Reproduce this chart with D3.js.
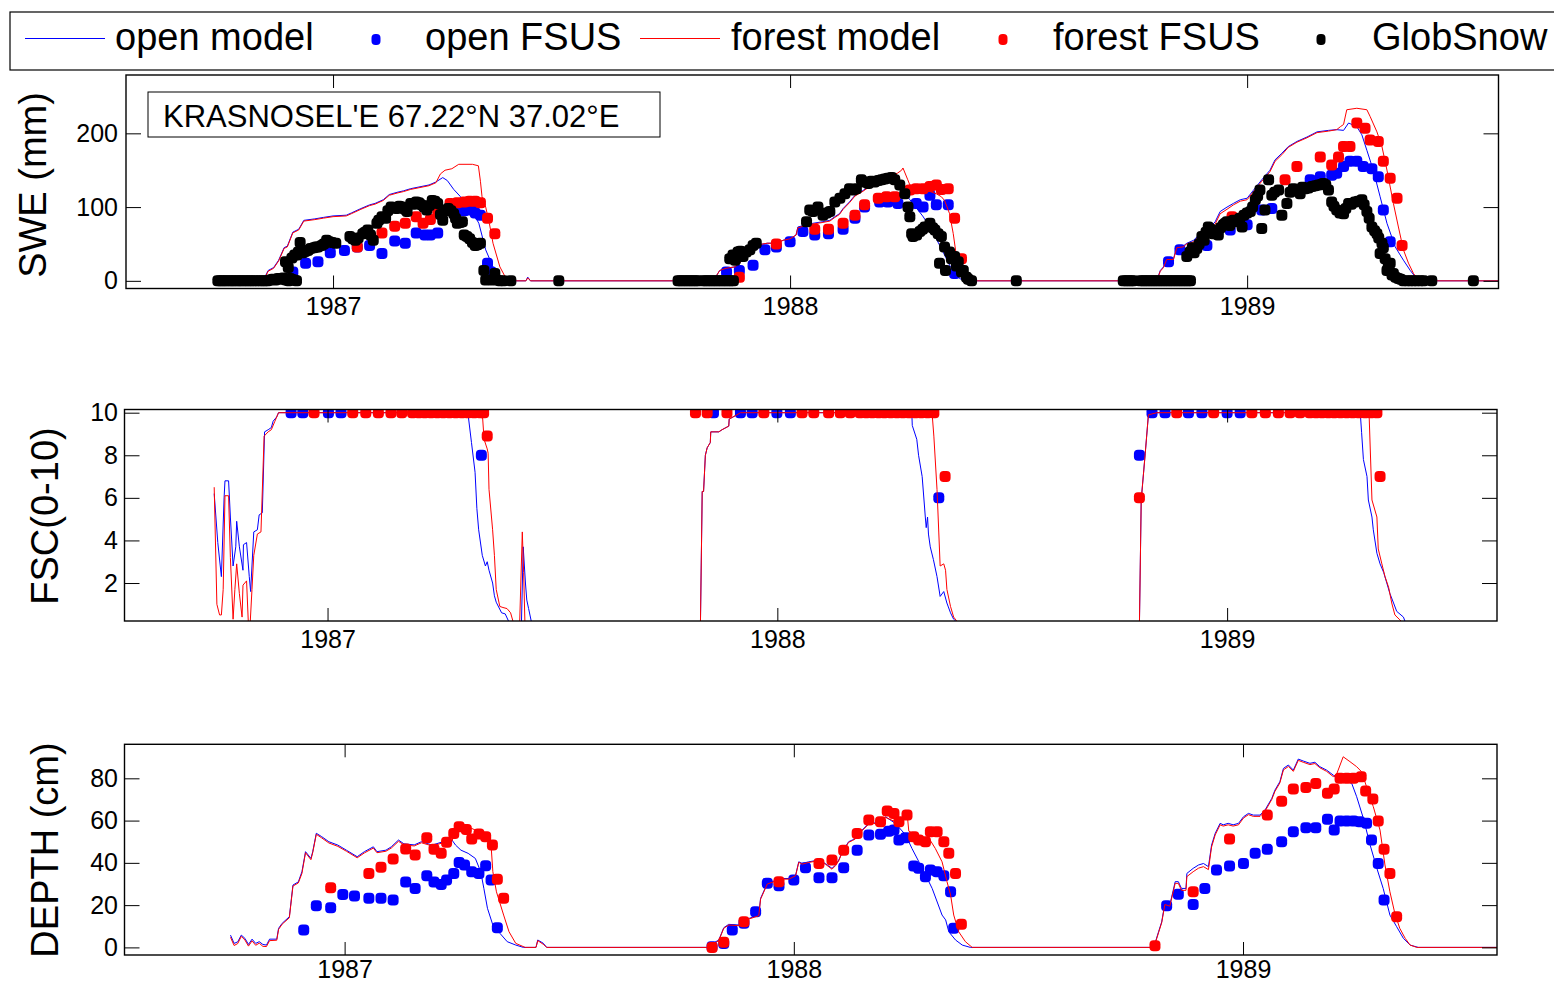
<!DOCTYPE html>
<html>
<head>
<meta charset="utf-8">
<script src="https://cdn.jsdelivr.net/npm/d3@7"></script>
<style>
  body { margin: 0; background: #fff; }
  svg { display: block; font-family: "Liberation Sans", Arial, Helvetica, sans-serif; }
</style>
</head>
<body>
<svg id="chart" width="1554" height="985"></svg>
<script>
// ---------- labels & ticks ----------
const seriesNames = ["open model", "open FSUS", "forest model", "forest FSUS", "GlobSnow"];
const stationLabel = "KRASNOSEL'E 67.22°N 37.02°E";
const yearTicks = [1987, 1988, 1989];
const sweTicks = [0, 100, 200];
const fscTicks = [2, 4, 6, 8, 10];
const depthTicks = [0, 20, 40, 60, 80];

// ---------- SWE (mm), [decimal year, value] ----------
const sweOpenModel = [
 [1986.748,3],[1986.754,5],[1986.760,4],[1986.800,4],[1986.850,4],[1986.858,14],[1986.870,18],[1986.881,28],[1986.893,45],[1986.900,47],[1986.912,66],[1986.925,70],[1986.936,82],[1986.960,84],[1986.979,86],[1987.000,88],[1987.029,89],[1987.040,92],[1987.061,98],[1987.080,103],[1987.092,105],[1987.110,110],[1987.123,117],[1987.140,120],[1987.154,122],[1987.170,125],[1987.186,127],[1987.210,130],[1987.225,134],[1987.240,140],[1987.250,136],[1987.264,124],[1987.279,114],[1987.303,96],[1987.319,78],[1987.334,42],[1987.350,19],[1987.365,5],[1987.381,0],[1987.422,0],[1987.426,5],[1987.432,0],
 [1987.835,0],[1987.838,6],[1987.846,14],[1987.860,17],[1987.880,19],[1987.893,26],[1987.905,33],[1987.920,39],[1987.923,48],[1987.950,51],[1987.970,51],[1987.985,55],[1988.000,57],[1988.013,62],[1988.017,73],[1988.036,76],[1988.050,78],[1988.070,80],[1988.087,82],[1988.098,87],[1988.108,91],[1988.116,98],[1988.130,107],[1988.142,116],[1988.156,121],[1988.182,132],[1988.203,141],[1988.220,143],[1988.228,140],[1988.240,128],[1988.262,110],[1988.290,88],[1988.306,73],[1988.330,45],[1988.350,20],[1988.371,3],[1988.385,0],
 [1988.802,0],[1988.810,14],[1988.817,19],[1988.824,30],[1988.839,30],[1988.846,46],[1988.860,47],[1988.868,51],[1988.883,55],[1988.897,64],[1988.919,73],[1988.930,80],[1988.941,94],[1988.956,100],[1988.970,105],[1988.985,110],[1989.000,112],[1989.014,123],[1989.032,137],[1989.050,150],[1989.061,164],[1989.076,173],[1989.090,182],[1989.109,189],[1989.131,195],[1989.153,202],[1989.178,204],[1989.196,205],[1989.211,204],[1989.222,214],[1989.240,209],[1989.251,198],[1989.262,177],[1989.276,150],[1989.291,114],[1989.306,78],[1989.324,46],[1989.342,28],[1989.357,14],[1989.371,3],[1989.376,0],[1989.550,0]
];
const sweForestModel = [
 [1986.748,2],[1986.754,4],[1986.760,3],[1986.800,3],[1986.850,3],[1986.858,13],[1986.870,17],[1986.881,27],[1986.893,44],[1986.900,46],[1986.912,65],[1986.925,69],[1986.936,81],[1986.960,83],[1986.979,85],[1987.000,87],[1987.029,88],[1987.040,91],[1987.061,97],[1987.080,102],[1987.092,104],[1987.110,109],[1987.123,116],[1987.140,119],[1987.154,121],[1987.170,124],[1987.186,126],[1987.210,129],[1987.225,133],[1987.235,145],[1987.245,150],[1987.260,152],[1987.275,158],[1987.305,158],[1987.318,156],[1987.3225,135],[1987.326,114],[1987.334,100],[1987.342,78],[1987.350,51],[1987.365,19],[1987.377,5],[1987.390,1],[1987.400,0],[1987.422,0],[1987.426,4],[1987.432,0],
 [1987.835,0],[1987.838,6],[1987.846,14],[1987.860,17],[1987.880,19],[1987.893,26],[1987.905,33],[1987.920,39],[1987.923,48],[1987.950,51],[1987.970,51],[1987.985,55],[1988.000,57],[1988.013,62],[1988.017,72],[1988.036,75],[1988.050,77],[1988.070,79],[1988.087,81],[1988.098,86],[1988.108,90],[1988.116,97],[1988.130,106],[1988.142,115],[1988.156,120],[1988.182,131],[1988.203,140],[1988.220,143],[1988.235,146],[1988.244,150],[1988.247,153],[1988.2575,137],[1988.262,130],[1988.276,128],[1988.298,123],[1988.320,118],[1988.331,114],[1988.338,109],[1988.349,91],[1988.357,64],[1988.364,33],[1988.379,14],[1988.397,0],
 [1988.802,0],[1988.810,13],[1988.817,18],[1988.824,29],[1988.839,29],[1988.846,45],[1988.860,46],[1988.868,50],[1988.883,53],[1988.897,62],[1988.919,70],[1988.930,77],[1988.941,91],[1988.956,97],[1988.970,103],[1988.985,108],[1989.000,110],[1989.014,121],[1989.032,135],[1989.050,148],[1989.061,162],[1989.076,171],[1989.090,181],[1989.109,188],[1989.131,194],[1989.153,201],[1989.178,203],[1989.196,205],[1989.204,209],[1989.211,212],[1989.218,232],[1989.240,234],[1989.262,232],[1989.269,223],[1989.284,202],[1989.295,182],[1989.306,150],[1989.320,105],[1989.331,73],[1989.342,42],[1989.353,24],[1989.364,10],[1989.375,1],[1989.385,0],[1989.550,0]
];
const sweOpenFsus = [
 [1986.912,12],[1986.940,24],[1986.967,26],[1986.994,38],[1987.025,41],[1987.053,46],[1987.080,48],[1987.107,37],[1987.135,54],[1987.158,51],[1987.182,65],[1987.201,62],[1987.213,62],[1987.229,65],[1987.272,94],[1987.287,95],[1987.303,96],[1987.311,92],[1987.3225,89],[1987.338,24],[1987.346,12],
 [1987.861,12],[1987.889,14],[1987.919,21],[1987.945,42],[1987.970,46],[1988.000,53],[1988.028,67],[1988.054,62],[1988.084,64],[1988.116,70],[1988.142,85],[1988.163,100],[1988.196,107],[1988.214,107],[1988.236,105],[1988.276,105],[1988.291,100],[1988.306,116],[1988.320,103],[1988.346,103],[1988.360,10],
 [1988.828,26],[1988.853,42],[1988.912,48],[1988.963,69],[1989.000,76],[1989.032,96],[1989.054,98],[1989.138,137],[1989.160,141],[1989.185,143],[1989.196,146],[1989.211,155],[1989.225,162],[1989.240,162],[1989.254,155],[1989.273,152],[1989.287,141],[1989.298,96],[1989.313,53]
];
const sweForestFsus = [
 [1987.053,46],[1987.107,65],[1987.135,74],[1987.158,78],[1987.182,87],[1987.197,78],[1987.213,83],[1987.229,94],[1987.256,105],[1987.272,106],[1987.287,107],[1987.299,108],[1987.311,108],[1987.3225,106],[1987.338,85],[1987.354,64],
 [1987.889,5],[1987.970,50],[1988.054,70],[1988.084,70],[1988.116,78],[1988.142,89],[1988.163,103],[1988.193,112],[1988.211,114],[1988.229,114],[1988.262,123],[1988.276,125],[1988.291,125],[1988.306,128],[1988.320,130],[1988.331,124],[1988.346,125],[1988.360,85],[1988.375,30],
 [1988.967,87],[1989.083,137],[1989.109,155],[1989.160,168],[1989.185,157],[1989.200,168],[1989.211,182],[1989.225,182],[1989.240,214],[1989.258,207],[1989.269,191],[1989.287,189],[1989.298,162],[1989.313,139],[1989.328,112],[1989.339,48]
];
const sweGlobSnow = [
 [1986.748,0],[1986.753,0],[1986.758,0],[1986.763,0],[1986.768,0],[1986.774,0],[1986.779,0],[1986.784,0],[1986.790,0],[1986.795,0],[1986.800,0],[1986.806,0],[1986.811,0],[1986.817,0],[1986.822,0],[1986.828,0],[1986.834,0],[1986.840,0],[1986.846,0],[1986.851,0],[1986.857,0],[1986.862,1],[1986.868,2],[1986.874,1],[1986.880,3],[1986.886,2],[1986.891,4],[1986.897,1],[1986.903,0],[1986.909,2],[1986.915,1],[1986.920,0],[1986.896,26],[1986.902,18],[1986.906,3],[1986.910,31],[1986.916,35],[1986.921,35],[1986.924,39],[1986.928,52],[1986.934,38],[1986.940,40],[1986.945,41],[1986.951,44],[1986.958,45],[1986.963,46],[1986.967,46],[1986.975,48],[1986.980,50],[1986.986,55],[1986.992,53],[1986.998,52],[1987.006,51],[1987.037,60],[1987.043,57],[1987.049,55],[1987.055,58],[1987.065,64],[1987.070,66],[1987.076,69],[1987.082,62],[1987.088,55],[1987.096,78],[1987.100,82],[1987.107,87],[1987.115,85],[1987.120,95],[1987.127,100],[1987.133,99],[1987.139,98],[1987.145,101],[1987.151,100],[1987.157,97],[1987.162,94],[1987.170,105],[1987.176,104],[1987.182,107],[1987.188,106],[1987.193,103],[1987.199,100],[1987.205,96],[1987.211,102],[1987.217,109],[1987.223,108],[1987.229,105],[1987.235,90],[1987.240,82],[1987.246,95],[1987.252,98],[1987.258,95],[1987.264,91],[1987.268,85],[1987.272,78],[1987.278,79],[1987.283,80],[1987.287,62],[1987.293,60],[1987.299,57],[1987.305,52],[1987.311,48],[1987.316,49],[1987.3225,51],[1987.330,14],[1987.334,1],[1987.346,1],[1987.354,10],[1987.358,1],[1987.365,0],[1987.373,0],[1987.389,0],[1987.494,0],
 [1987.755,0],[1987.760,0],[1987.766,0],[1987.771,0],[1987.777,0],[1987.782,0],[1987.788,0],[1987.793,0],[1987.799,0],[1987.810,0],[1987.815,0],[1987.821,0],[1987.826,0],[1987.832,0],[1987.837,0],[1987.843,0],[1987.848,0],[1987.854,0],[1987.859,0],[1987.865,0],[1987.870,0],[1987.876,0],[1987.868,30],[1987.875,35],[1987.880,28],[1987.886,39],[1987.891,40],[1987.897,33],[1987.904,39],[1987.912,42],[1987.919,48],[1987.926,51],
 [1988.036,80],[1988.043,96],[1988.050,94],[1988.061,100],[1988.072,89],[1988.080,92],[1988.087,94],[1988.098,107],[1988.109,112],[1988.120,118],[1988.130,125],[1988.138,123],[1988.145,125],[1988.156,137],[1988.163,134],[1988.171,132],[1988.178,135],[1988.185,134],[1988.193,136],[1988.200,137],[1988.207,138],[1988.214,139],[1988.222,140],[1988.229,137],[1988.240,130],[1988.251,118],[1988.258,100],[1988.262,87],[1988.266,64],[1988.269,60],[1988.277,62],[1988.284,67],[1988.290,70],[1988.295,73],[1988.306,78],[1988.312,72],[1988.317,69],[1988.324,64],[1988.327,24],[1988.331,60],[1988.338,46],[1988.340,14],[1988.349,39],[1988.353,30],[1988.360,33],[1988.364,20],[1988.368,26],[1988.375,12],[1988.379,14],[1988.386,5],[1988.390,2],[1988.397,0],[1988.495,0],
 [1988.729,0],[1988.735,0],[1988.740,0],[1988.746,0],[1988.751,0],[1988.766,0],[1988.772,0],[1988.777,0],[1988.783,0],[1988.788,0],[1988.794,0],[1988.799,0],[1988.805,0],[1988.810,0],[1988.816,0],[1988.821,0],[1988.827,0],[1988.832,0],[1988.838,0],[1988.843,0],[1988.849,0],[1988.854,0],[1988.860,0],[1988.865,0],[1988.871,0],[1988.876,0],
 [1988.868,33],[1988.875,39],[1988.880,45],[1988.884,38],[1988.890,44],[1988.895,50],[1988.901,60],[1988.906,55],[1988.910,66],[1988.915,73],[1988.920,70],[1988.926,64],[1988.931,68],[1988.937,62],[1988.942,72],[1988.948,76],[1988.952,78],[1988.956,80],[1988.962,75],[1988.970,82],[1988.978,80],[1988.984,85],[1988.989,73],[1988.993,89],[1989.000,92],[1989.007,94],[1989.012,100],[1989.018,110],[1989.023,115],[1989.028,123],[1989.032,71],[1989.039,96],[1989.047,137],[1989.054,116],[1989.060,120],[1989.069,123],[1989.076,89],[1989.087,105],[1989.094,120],[1989.101,125],[1989.108,122],[1989.116,118],[1989.121,127],[1989.127,125],[1989.134,126],[1989.142,128],[1989.149,129],[1989.156,130],[1989.163,131],[1989.167,132],[1989.172,130],[1989.178,123],[1989.185,107],[1989.190,101],[1989.196,96],[1989.203,92],[1989.211,91],[1989.216,98],[1989.222,105],[1989.228,104],[1989.236,107],[1989.243,108],[1989.251,110],[1989.256,103],[1989.262,94],[1989.267,85],[1989.273,73],[1989.279,68],[1989.284,64],[1989.288,58],[1989.291,37],[1989.295,51],[1989.298,45],[1989.302,30],[1989.306,14],[1989.309,20],[1989.313,24],[1989.317,8],[1989.320,10],[1989.325,5],[1989.331,3],[1989.336,2],[1989.342,0],[1989.350,0],[1989.357,0],[1989.364,0],[1989.371,0],[1989.379,0],[1989.386,0],[1989.404,0],[1989.495,0]
];

// ---------- FSC (0-10) ----------
const fscOpenModel = [
 [1986.748,6.2],[1986.756,3.9],[1986.764,2.3],[1986.770,6.0],[1986.772,6.8],[1986.780,6.8],[1986.784,5.1],[1986.790,2.8],[1986.796,3.7],[1986.798,4.9],[1986.804,3.7],[1986.812,2.6],[1986.813,3.8],[1986.820,3.9],[1986.826,2.3],[1986.829,1.6],[1986.836,4.4],[1986.844,4.5],[1986.848,5.2],[1986.855,5.3],[1986.860,9.1],[1986.868,9.2],[1986.875,9.3],[1986.879,9.6],[1986.887,9.8],[1986.891,10],[1987.312,10],[1987.320,8.6],[1987.328,7.2],[1987.332,5.5],[1987.336,4.5],[1987.344,3.3],[1987.351,2.8],[1987.355,3.0],[1987.359,2.6],[1987.367,2.0],[1987.371,1.4],[1987.375,1.1],[1987.387,0.6],[1987.395,0.55],[1987.407,0],[1987.431,0],[1987.435,3.7],[1987.440,2.0],[1987.443,1.2],[1987.447,0.8],[1987.455,0],
 [1987.829,0],[1987.833,6.3],[1987.836,6.3],[1987.840,8.0],[1987.844,8.35],[1987.851,8.6],[1987.852,9.1],[1987.870,9.1],[1987.877,9.2],[1987.892,9.37],[1987.893,9.7],[1987.910,9.9],[1987.918,10],[1988.299,10],[1988.300,9.4],[1988.310,8.75],[1988.314,8.0],[1988.322,7.0],[1988.329,5.1],[1988.331,4.6],[1988.334,5.1],[1988.336,4.3],[1988.340,3.7],[1988.347,3.1],[1988.355,2.3],[1988.362,1.37],[1988.370,1.6],[1988.377,1.06],[1988.385,0.6],[1988.392,0.3],[1988.407,0],
 [1988.805,0],[1988.809,5.9],[1988.818,8.1],[1988.825,9.9],[1988.844,10],[1989.296,10],[1989.299,9.06],[1989.303,7.8],[1989.311,7.0],[1989.314,5.9],[1989.322,5.1],[1989.325,4.5],[1989.333,3.4],[1989.340,2.9],[1989.348,2.5],[1989.355,2.0],[1989.362,1.5],[1989.370,1.06],[1989.377,0.67],[1989.392,0.4],[1989.399,0],[1989.600,0]
];
const fscForestModel = [
 [1986.748,6.5],[1986.754,1.0],[1986.760,0.5],[1986.764,0.5],[1986.768,1.7],[1986.772,6.1],[1986.780,6.1],[1986.784,3.2],[1986.790,0.3],[1986.794,1.7],[1986.798,2.9],[1986.804,1.5],[1986.810,0.4],[1986.812,1.9],[1986.820,2.1],[1986.824,0.1],[1986.828,0.1],[1986.832,1.7],[1986.836,3.3],[1986.844,4.3],[1986.852,4.4],[1986.859,8.9],[1986.868,9.1],[1986.875,9.2],[1986.883,9.6],[1986.891,10],[1987.344,10],[1987.348,8.75],[1987.355,8.3],[1987.357,8.1],[1987.359,6.4],[1987.367,4.5],[1987.371,3.3],[1987.375,1.7],[1987.383,0.9],[1987.390,0.85],[1987.399,0.8],[1987.407,0.6],[1987.415,0],[1987.427,0],[1987.433,4.4],[1987.436,2.5],[1987.439,0],
 [1987.829,0],[1987.833,6.3],[1987.836,6.3],[1987.840,8.0],[1987.844,8.35],[1987.851,8.6],[1987.852,9.1],[1987.870,9.1],[1987.877,9.2],[1987.892,9.37],[1987.893,9.7],[1987.910,9.9],[1987.918,10],[1988.344,10],[1988.348,8.9],[1988.355,6.4],[1988.359,4.35],[1988.362,2.8],[1988.370,2.9],[1988.374,2.6],[1988.377,1.7],[1988.385,0.9],[1988.392,0.4],[1988.407,0],
 [1988.805,0],[1988.809,5.9],[1988.818,8.1],[1988.825,9.9],[1988.844,10],[1989.314,10],[1989.316,9.7],[1989.322,5.9],[1989.333,5.1],[1989.336,3.6],[1989.344,2.9],[1989.351,2.3],[1989.359,1.8],[1989.366,1.06],[1989.373,0.5],[1989.384,0.27],[1989.396,0],[1989.600,0]
];
const fscOpenFsus = [
 [1986.919,10],[1986.945,10],[1987.002,10],[1987.030,10],[1987.342,8],
 [1987.858,10],[1987.918,10],[1987.944,10],[1987.999,10],[1988.029,10],[1988.359,6],
 [1988.805,8],[1988.833,10],[1988.862,10],[1988.914,10],[1988.944,10],[1989.000,10],[1989.029,10]
];
const fscForestFsus = [
 [1986.970,10],[1987.056,10],[1987.085,10],[1987.113,10],[1987.141,10],[1987.165,10],[1987.189,10],[1987.203,10],[1987.216,10],[1987.230,10],[1987.244,10],[1987.257,10],[1987.271,10],[1987.285,10],[1987.299,10],[1987.312,10],[1987.326,10],[1987.340,10],[1987.347,10],[1987.355,8.9],
 [1987.818,10],[1987.844,10],[1987.888,10],[1987.970,10],[1988.055,10],[1988.081,10],[1988.114,10],[1988.140,10],[1988.162,10],[1988.184,10],[1988.198,10],[1988.211,10],[1988.225,10],[1988.238,10],[1988.252,10],[1988.266,10],[1988.279,10],[1988.293,10],[1988.307,10],[1988.320,10],[1988.334,10],[1988.348,10],[1988.373,7],
 [1988.805,6],[1988.888,10],[1988.970,10],[1989.055,10],[1989.085,10],[1989.114,10],[1989.140,10],[1989.162,10],[1989.184,10],[1989.198,10],[1989.211,10],[1989.225,10],[1989.238,10],[1989.252,10],[1989.266,10],[1989.279,10],[1989.293,10],[1989.307,10],[1989.320,10],[1989.333,10],[1989.340,7]
];

// ---------- snow depth (cm) ----------
const depthOpenModel = [
 [1986.746,5.8],[1986.754,1.9],[1986.762,2.6],[1986.770,5.8],[1986.778,4.3],[1986.786,1.4],[1986.794,3.9],[1986.802,1.9],[1986.810,2.7],[1986.818,1.4],[1986.826,1.1],[1986.833,3.9],[1986.849,3.9],[1986.853,9],[1986.861,11.4],[1986.877,14.5],[1986.885,29.5],[1986.897,31],[1986.905,35.8],[1986.913,45.3],[1986.925,42.1],[1986.929,45.3],[1986.937,54],[1986.949,52.4],[1986.965,50],[1986.985,48.4],[1987.004,46],[1987.028,42.9],[1987.044,45.3],[1987.064,47.6],[1987.072,45.3],[1987.092,46],[1987.104,47.6],[1987.120,50.8],[1987.132,49],[1987.155,48.5],[1987.171,50],[1987.195,48.4],[1987.219,50],[1987.239,50.8],[1987.247,48.4],[1987.259,46],[1987.275,44.5],[1987.291,42.1],[1987.303,35.8],[1987.310,27.9],[1987.318,18.5],[1987.330,10.6],[1987.346,6.6],[1987.362,2.7],[1987.381,1.1],[1987.398,0],[1987.426,0],[1987.430,3.5],[1987.442,2],[1987.450,0],
 [1987.807,0],[1987.811,0.8],[1987.833,3.5],[1987.844,9.3],[1987.855,10.9],[1987.878,10.6],[1987.885,11.4],[1987.900,13.7],[1987.922,15.3],[1987.926,23.2],[1987.941,30.3],[1987.952,31.1],[1987.974,32.6],[1987.989,32.6],[1988.004,34.2],[1988.011,40.5],[1988.019,39.7],[1988.033,40.5],[1988.056,41.3],[1988.070,39.7],[1988.085,37.4],[1988.093,39],[1988.100,41.3],[1988.108,45.3],[1988.122,50],[1988.130,50.8],[1988.137,51.6],[1988.152,55.5],[1988.167,58.7],[1988.174,59.5],[1988.189,57.9],[1988.204,61.8],[1988.226,58.7],[1988.249,53.2],[1988.263,46.8],[1988.286,37.4],[1988.308,27.9],[1988.330,15.3],[1988.338,13],[1988.345,7.4],[1988.360,3.5],[1988.375,1.1],[1988.393,0],
 [1988.802,0],[1988.804,1.9],[1988.812,7.4],[1988.819,12.1],[1988.826,20.8],[1988.837,20],[1988.849,31.1],[1988.856,31.1],[1988.863,27.9],[1988.873,27.9],[1988.875,35],[1988.889,37.4],[1988.901,39],[1988.912,39.7],[1988.923,38.2],[1988.930,48.4],[1988.938,53.9],[1988.949,58.7],[1988.956,58],[1988.967,58.7],[1988.978,58],[1988.990,58.7],[1989.001,61.8],[1989.012,63.4],[1989.023,62.6],[1989.038,62.6],[1989.049,65],[1989.064,70.5],[1989.071,74.4],[1989.082,78.4],[1989.090,84.7],[1989.101,86.3],[1989.112,83.9],[1989.123,89.1],[1989.134,88.2],[1989.149,87.1],[1989.160,87.6],[1989.171,85.5],[1989.186,83.9],[1989.201,81.5],[1989.216,78.4],[1989.231,78.4],[1989.242,77.6],[1989.253,71.3],[1989.268,61],[1989.283,48.4],[1989.298,37.4],[1989.312,27.9],[1989.327,15.3],[1989.342,9.8],[1989.357,4.3],[1989.372,1.1],[1989.390,0],[1989.565,0]
];
const depthForestModel = [
 [1986.746,4.8],[1986.754,0.9],[1986.762,1.8],[1986.770,5.2],[1986.778,3.5],[1986.786,0.6],[1986.794,3.1],[1986.802,1.0],[1986.810,2.0],[1986.818,0.5],[1986.826,0.4],[1986.833,3.2],[1986.849,3.4],[1986.853,8.5],[1986.861,11],[1986.877,14],[1986.885,29],[1986.897,30.5],[1986.905,35],[1986.913,44.8],[1986.925,41.5],[1986.929,44.8],[1986.937,53.5],[1986.949,51.8],[1986.965,49.4],[1986.985,47.8],[1987.004,45.5],[1987.028,42.4],[1987.044,44.7],[1987.064,47],[1987.072,44.8],[1987.092,45.5],[1987.104,47],[1987.120,50.2],[1987.132,48.5],[1987.155,48],[1987.171,49.5],[1987.195,48],[1987.219,49.5],[1987.239,50.3],[1987.243,53],[1987.259,57],[1987.283,56.3],[1987.299,54.7],[1987.318,53],[1987.326,48.4],[1987.330,35.8],[1987.338,26.3],[1987.354,15.3],[1987.366,7.4],[1987.381,1.9],[1987.402,0],[1987.426,0],[1987.430,3.2],[1987.442,1.5],[1987.450,0],
 [1987.807,0],[1987.811,0.5],[1987.833,3.2],[1987.844,9],[1987.855,10.6],[1987.878,10.3],[1987.885,11],[1987.900,13.4],[1987.922,15],[1987.926,22.8],[1987.941,30],[1987.952,30.8],[1987.974,32.3],[1987.989,32.3],[1988.004,33.9],[1988.011,40.2],[1988.019,39.4],[1988.033,40.2],[1988.056,41],[1988.070,39.4],[1988.085,37],[1988.093,38.7],[1988.100,41],[1988.108,45],[1988.122,49.7],[1988.130,50.5],[1988.137,51.3],[1988.152,55.2],[1988.167,58.4],[1988.174,59.2],[1988.189,57.6],[1988.204,61.5],[1988.226,59.5],[1988.234,61],[1988.249,62],[1988.252,64],[1988.256,55],[1988.278,52.4],[1988.301,51.6],[1988.315,46.8],[1988.330,40.5],[1988.341,31.1],[1988.349,24.8],[1988.356,15.3],[1988.367,7.4],[1988.382,2.7],[1988.397,0],
 [1988.802,0],[1988.804,1.5],[1988.812,7],[1988.819,11.7],[1988.826,20.3],[1988.837,19.5],[1988.849,30.3],[1988.856,30.3],[1988.863,27],[1988.873,27],[1988.875,33.5],[1988.889,35.8],[1988.901,37.5],[1988.912,38.2],[1988.923,36.8],[1988.930,47.5],[1988.938,53.2],[1988.949,58],[1988.956,57.4],[1988.967,58],[1988.978,57.4],[1988.990,58],[1989.001,61.2],[1989.012,62.8],[1989.023,62],[1989.038,62],[1989.049,64.4],[1989.064,70],[1989.071,73.8],[1989.082,77.8],[1989.090,84],[1989.101,85.6],[1989.112,83.3],[1989.123,88.5],[1989.134,87.6],[1989.149,86.5],[1989.160,87],[1989.171,85],[1989.186,83.3],[1989.201,80.8],[1989.209,82.3],[1989.223,90.2],[1989.238,87.9],[1989.253,85.5],[1989.264,83.1],[1989.275,76],[1989.290,66.6],[1989.305,55.5],[1989.316,39],[1989.327,26.3],[1989.338,16.1],[1989.349,9],[1989.361,4.3],[1989.372,1.1],[1989.387,0],[1989.565,0]
];
const depthOpenFsus = [
 [1986.909,8.2],[1986.937,19.7],[1986.969,18.8],[1986.996,25],[1987.022,24.3],[1987.054,23.2],[1987.081,23.2],[1987.108,22.4],[1987.136,31],[1987.157,27.9],[1987.183,33.9],[1987.199,31],[1987.215,29.8],[1987.227,31.9],[1987.243,35],[1987.255,40.2],[1987.267,39],[1987.283,35.8],[1987.299,35],[1987.314,38.6],[1987.326,31.9],[1987.340,9.3],
 [1987.818,0.3],[1987.844,1.9],[1987.863,8.2],[1987.889,11.4],[1987.915,16.9],[1987.941,30.3],[1987.967,29.2],[1988.000,31.9],[1988.026,37.7],[1988.056,33],[1988.085,33],[1988.111,37.7],[1988.141,46],[1988.167,53.2],[1988.193,53.5],[1988.211,55],[1988.223,55.5],[1988.234,50.8],[1988.249,51.9],[1988.267,38.5],[1988.278,37.4],[1988.293,33.4],[1988.304,36.6],[1988.319,35.8],[1988.334,33.9],[1988.349,26.3],[1988.356,9],
 [1988.830,19.7],[1988.856,25.1],[1988.889,20.3],[1988.915,27.9],[1988.941,36.6],[1988.970,38.5],[1989.001,39.7],[1989.027,44.5],[1989.054,46.4],[1989.086,50],[1989.112,54.7],[1989.140,56.6],[1989.162,56.6],[1989.188,60.6],[1989.203,55.5],[1989.216,59.8],[1989.231,59.8],[1989.246,59.8],[1989.260,59.5],[1989.275,58.7],[1989.286,50.8],[1989.301,39.7],[1989.314,22.4]
];
const depthForestFsus = [
 [1986.969,28.2],[1987.054,35],[1987.081,37.9],[1987.108,41.8],[1987.136,46.5],[1987.157,43.7],[1987.183,51.9],[1987.199,46.4],[1987.215,44.5],[1987.227,49.7],[1987.243,53.9],[1987.255,57.1],[1987.271,55.8],[1987.283,51.3],[1987.299,53.6],[1987.314,52.4],[1987.329,48.4],[1987.340,32.3],[1987.354,23.2],
 [1987.818,0],[1987.844,2.4],[1987.889,12.1],[1987.967,31.1],[1988.056,39.7],[1988.085,41.3],[1988.111,46],[1988.141,53.9],[1988.167,60.3],[1988.193,59.5],[1988.208,64.5],[1988.223,63.4],[1988.234,59.5],[1988.252,62.6],[1988.267,52.4],[1988.278,50.8],[1988.293,50],[1988.304,54.7],[1988.319,54.7],[1988.334,50],[1988.345,44.5],[1988.360,35],[1988.373,10.9],
 [1988.804,0.8],[1988.889,26.3],[1988.970,51.3],[1989.054,62.6],[1989.086,69.2],[1989.112,74.9],[1989.140,75.7],[1989.162,77.6],[1989.188,72.9],[1989.203,74.9],[1989.216,80],[1989.231,80],[1989.246,80],[1989.263,80.8],[1989.273,74],[1989.289,70.2],[1989.301,59.8],[1989.314,46.4],[1989.327,35],[1989.342,14.5]
];

// ---------- drawing ----------
const COLORS = { open: "#0000ff", forest: "#ff0000", glob: "#000000" };
const svg = d3.select("#chart");

const panels = [
  { id: "swe", left: 126, right: 1498.5, top: 75, bottom: 288.5,
    xDomain: [1986.547, 1989.550], yDomain: [-10.4, 279.1], yTicks: sweTicks,
    label: "SWE (mm)", labelX: 46, labelY: 185, xPad: 9,
    openModel: sweOpenModel, openFsus: sweOpenFsus, forestModel: sweForestModel,
    forestFsus: sweForestFsus, globSnow: sweGlobSnow },
  { id: "fsc", left: 124.5, right: 1497, top: 409.5, bottom: 621,
    xDomain: [1986.5486, 1989.600], yDomain: [0.216, 10.15], yTicks: fscTicks,
    label: "FSC(0-10)", labelX: 58, labelY: 516, xPad: 9,
    openModel: fscOpenModel, openFsus: fscOpenFsus, forestModel: fscForestModel,
    forestFsus: fscForestFsus, globSnow: [] },
  { id: "depth", left: 124.5, right: 1497, top: 744.3, bottom: 955,
    xDomain: [1986.510, 1989.5654], yDomain: [-3.6, 96.1], yTicks: depthTicks,
    label: "DEPTH (cm)", labelX: 58, labelY: 850, xPad: 5,
    openModel: depthOpenModel, openFsus: depthOpenFsus, forestModel: depthForestModel,
    forestFsus: depthForestFsus, globSnow: [] }
];

const DOT = 11;

panels.forEach(p => {
  const x = d3.scaleLinear().domain(p.xDomain).range([p.left, p.right]);
  const y = d3.scaleLinear().domain(p.yDomain).range([p.bottom, p.top]);
  const g = svg.append("g").attr("class", "panel-" + p.id);

  svg.append("clipPath").attr("id", "clip-" + p.id)
    .append("rect")
    .attr("x", p.left).attr("y", p.top)
    .attr("width", p.right - p.left).attr("height", p.bottom - p.top);

  const plot = g.append("g").attr("clip-path", `url(#clip-${p.id})`);
  const line = d3.line().x(d => x(d[0])).y(d => y(d[1]));

  const drawLine = (data, color) => plot.append("path")
    .datum(data).attr("d", line)
    .attr("fill", "none").attr("stroke", color).attr("stroke-width", 1)
    .attr("stroke-linejoin", "round");

  const drawDots = (data, color) => plot.append("g").selectAll("rect")
    .data(data).join("rect")
    .attr("x", d => x(d[0]) - DOT / 2).attr("y", d => y(d[1]) - DOT / 2)
    .attr("width", DOT).attr("height", DOT).attr("rx", 4).attr("ry", 4)
    .attr("fill", color);

  drawLine(p.openModel, COLORS.open);
  drawDots(p.openFsus, COLORS.open);
  drawLine(p.forestModel, COLORS.forest);
  drawDots(p.forestFsus, COLORS.forest);
  drawDots(p.globSnow, COLORS.glob);

  // axes: inward ticks on all four sides
  const fmt = d3.format("d");
  const styleAxis = sel => {
    sel.select(".domain").remove();
    sel.selectAll("text").attr("font-size", 25).attr("fill", "#000")
      .attr("font-family", '"Liberation Sans", Arial, sans-serif');
    sel.selectAll("line").attr("stroke", "#000").attr("stroke-width", 1);
  };
  g.append("g").attr("transform", `translate(0,${p.bottom})`)
    .call(d3.axisBottom(x).tickValues(yearTicks).tickFormat(fmt)
      .tickSizeInner(-13).tickSizeOuter(0).tickPadding(p.xPad))
    .call(styleAxis);
  g.append("g").attr("transform", `translate(0,${p.top})`)
    .call(d3.axisTop(x).tickValues(yearTicks).tickFormat("")
      .tickSizeInner(-13).tickSizeOuter(0))
    .call(styleAxis);
  g.append("g").attr("transform", `translate(${p.left},0)`)
    .call(d3.axisLeft(y).tickValues(p.yTicks).tickFormat(fmt)
      .tickSizeInner(-15).tickSizeOuter(0).tickPadding(p.left - 118))
    .call(styleAxis);
  g.append("g").attr("transform", `translate(${p.right},0)`)
    .call(d3.axisRight(y).tickValues(p.yTicks).tickFormat("")
      .tickSizeInner(-15).tickSizeOuter(0))
    .call(styleAxis);

  // frame
  g.append("rect")
    .attr("x", p.left).attr("y", p.top)
    .attr("width", p.right - p.left).attr("height", p.bottom - p.top)
    .attr("fill", "none").attr("stroke", "#000").attr("stroke-width", 1.4);

  // y-axis title
  g.append("text")
    .attr("transform", `translate(${p.labelX},${p.labelY}) rotate(-90)`)
    .attr("text-anchor", "middle").attr("font-size", 38).attr("fill", "#000")
    .text(p.label);
});

// station name box inside the SWE panel
const station = svg.append("g");
station.append("rect")
  .attr("x", 148).attr("y", 92).attr("width", 512).attr("height", 45)
  .attr("fill", "#fff").attr("stroke", "#000").attr("stroke-width", 1);
station.append("text")
  .attr("x", 163).attr("y", 127).attr("font-size", 31).attr("fill", "#000")
  .text(stationLabel);

// legend
const legend = svg.append("g");
legend.append("rect")
  .attr("x", 10).attr("y", 12).attr("width", 1600).attr("height", 58)
  .attr("fill", "#fff").attr("stroke", "#000").attr("stroke-width", 1.2);

const legendItems = [
  { name: seriesNames[0], kind: "line", color: COLORS.open,   sx: 25,   tx: 115 },
  { name: seriesNames[1], kind: "dot",  color: COLORS.open,   sx: 376,  tx: 425 },
  { name: seriesNames[2], kind: "line", color: COLORS.forest, sx: 640,  tx: 731 },
  { name: seriesNames[3], kind: "dot",  color: COLORS.forest, sx: 1003, tx: 1053 },
  { name: seriesNames[4], kind: "dot",  color: COLORS.glob,   sx: 1321, tx: 1372 }
];
legendItems.forEach(it => {
  if (it.kind === "line") {
    legend.append("line")
      .attr("x1", it.sx).attr("x2", it.sx + 80).attr("y1", 38.5).attr("y2", 38.5)
      .attr("stroke", it.color).attr("stroke-width", 1);
  } else {
    legend.append("rect")
      .attr("x", it.sx - 4.5).attr("y", 34).attr("width", 9).attr("height", 11)
      .attr("rx", 4).attr("ry", 4).attr("fill", it.color);
  }
  legend.append("text")
    .attr("x", it.tx).attr("y", 50).attr("font-size", 38).attr("fill", "#000")
    .text(it.name);
});
</script>
</body>
</html>
